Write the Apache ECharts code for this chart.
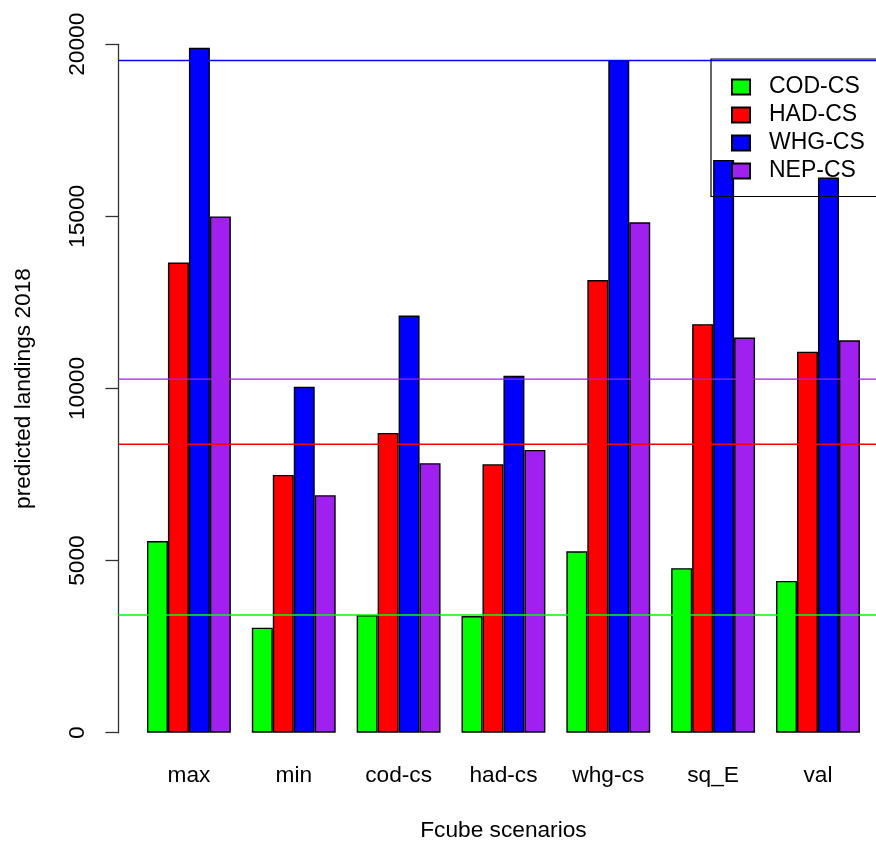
<!DOCTYPE html>
<html>
<head>
<meta charset="utf-8">
<script src="https://cdn.jsdelivr.net/npm/echarts@6/dist/echarts.min.js"></script>
<style>
  html, body { margin: 0; padding: 0; background: #fff; }
  #chart { width: 876px; height: 841px; }
</style>
</head>
<body>
<div id="chart"></div>
<script>
// Fcube scenarios and predicted 2018 landings per stock
const scenarios = ['max', 'min', 'cod-cs', 'had-cs', 'whg-cs', 'sq_E', 'val'];
const codCS = [5570, 3050, 3420, 3390, 5270, 4780, 4410];
const hadCS = [13660, 7490, 8710, 7800, 13150, 11870, 11070];
const whgCS = [19900, 10050, 12120, 10370, 19530, 16640, 16130];
const nepCS = [15000, 6900, 7830, 8215, 14830, 11480, 11400];

// horizontal reference levels (one per stock)
const refWHG = 19530;
const refHAD = 8380;
const refNEP = 10270;
const refCOD = 3420;

const yTicks = [0, 5000, 10000, 15000, 20000];

const stockNames = ['COD-CS', 'HAD-CS', 'WHG-CS', 'NEP-CS'];
const stockColors = ['#00FF00', '#FF0000', '#0000FF', '#A020F0'];
const stockValues = [codCS, hadCS, whgCS, nepCS];
const refValues = [refCOD, refHAD, refWHG, refNEP];

const FONT = 'Liberation Sans, Arial, sans-serif';
const FS = 22.7;
const yMin = yTicks[0], yMax = yTicks[yTicks.length - 1];
const yStep = yTicks[1] - yTicks[0];

const chart = echarts.init(document.getElementById('chart'), null, { renderer: 'canvas' });

const barSeries = stockNames.map((name, i) => ({
  name: name,
  type: 'bar',
  xAxisIndex: 0,
  yAxisIndex: 0,
  data: stockValues[i],
  barGap: '0%',
  barCategoryGap: '20%',
  itemStyle: { color: stockColors[i], borderColor: '#000', borderWidth: 1.4 },
  z: 2,
  silent: true
}));

const lineSeries = stockNames.map((name, i) => ({
  name: 'ref-' + name,
  type: 'line',
  xAxisIndex: 1,
  yAxisIndex: 1,
  data: [[0, refValues[i]], [1, refValues[i]]],
  symbol: 'none',
  lineStyle: { color: stockColors[i], width: 1.3 },
  z: 3,
  silent: true
}));

chart.setOption({
  animation: false,
  backgroundColor: '#fff',
  textStyle: { fontFamily: FONT },
  grid: [
    { left: 136.5, right: 5.6, top: 44.3, bottom: 108.3, outerBoundsMode: 'none', containLabel: false },
    { left: 118.4, right: -14, top: 44.3, bottom: 108.3, outerBoundsMode: 'none', containLabel: false }
  ],
  xAxis: [
    {
      type: 'category',
      gridIndex: 0,
      data: scenarios,
      axisLine: { show: false },
      axisTick: { show: false },
      axisLabel: { color: '#000', fontSize: FS, lineHeight: 22, margin: 32, fontFamily: FONT },
      name: 'Fcube scenarios',
      nameLocation: 'middle',
      nameGap: 87,
      nameTextStyle: { color: '#000', fontSize: FS, lineHeight: 22, fontFamily: FONT }
    },
    { type: 'value', gridIndex: 1, min: 0, max: 1, show: false }
  ],
  yAxis: [
    { type: 'value', gridIndex: 0, min: yMin, max: yMax, show: false },
    {
      type: 'value',
      gridIndex: 1,
      min: yMin,
      max: yMax,
      interval: yStep,
      axisLine: { show: true, lineStyle: { color: '#333', width: 1.3 } },
      axisTick: { show: true, length: 13, lineStyle: { color: '#333', width: 1.3 } },
      splitLine: { show: false },
      axisLabel: {
        color: '#000', fontSize: FS, lineHeight: 22, rotate: 90, margin: 30, fontFamily: FONT,
        formatter: v => String(v)
      },
      name: 'predicted landings 2018',
      nameLocation: 'middle',
      nameGap: 84,
      nameTextStyle: { color: '#000', fontSize: FS, lineHeight: 22, fontFamily: FONT }
    }
  ],
  legend: {
    data: stockNames,
    orient: 'vertical',
    left: 711,
    top: 59,
    padding: [16.5, 40, 14, 20],
    itemWidth: 18,
    itemHeight: 15,
    itemGap: 5.0,
    icon: 'rect',
    borderColor: '#000',
    borderWidth: 1.2,
    backgroundColor: 'transparent',
    textStyle: { color: '#000', fontSize: 23, lineHeight: 22, padding: [0, 0, 0, 14], fontFamily: FONT },
    selectedMode: false,
    z: 10
  },
  series: barSeries.concat(lineSeries)
});
</script>
</body>
</html>
